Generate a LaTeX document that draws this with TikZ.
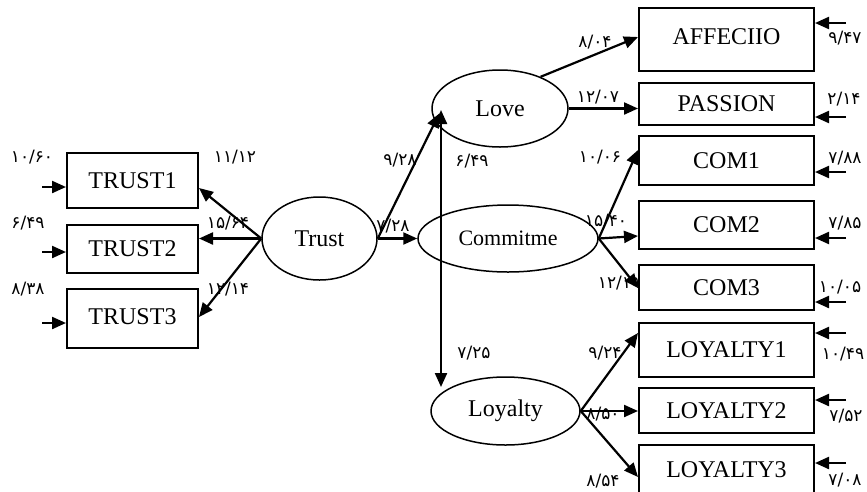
\documentclass[tikz,border=0pt]{standalone}
\usepackage{fontspec}
\setmainfont{Liberation Serif}
\newfontfamily\fanum{DejaVu Sans}
\usetikzlibrary{shapes.geometric,arrows.meta}
\tikzset{
  box/.style={draw,line width=2pt,inner sep=0pt,font=\fontsize{24}{24}\selectfont},
  lat/.style={draw,ellipse,line width=1.5pt,inner sep=0pt,font=\fontsize{24}{24}\selectfont},
  arr/.style={line width=2.2pt,-{Triangle[length=14pt,width=12pt]}},
  darr/.style={line width=2.2pt,{Triangle[length=14pt,width=12pt]}-{Triangle[length=14pt,width=12pt]}},
  num/.style={inner sep=0pt,font=\fanum\fontsize{17}{17}\selectfont}
}
\begin{document}
\begin{tikzpicture}[x=1pt,y=-1pt]
\useasboundingbox (0,0) rectangle (867,491);
% left boxes
\node[box,minimum width=131pt,minimum height=55pt] (t1) at (132.5,180.5) {TRUST1};
\node[box,minimum width=131pt,minimum height=48pt] (t2) at (132.5,249) {TRUST2};
\node[box,minimum width=131pt,minimum height=59pt] (t3) at (132.5,318.5) {\raisebox{3pt}{TRUST3}};
% latent
\node[lat,minimum width=115pt,minimum height=83pt] (trust) at (319.5,238.5) {Trust};
\node[lat,minimum width=136pt,minimum height=77pt] (love) at (500,108.5) {Love};
\node[lat,minimum width=180pt,minimum height=67pt,font=\fontsize{22}{22}\selectfont] (comm) at (508,238.5) {Commitme};
\node[lat,minimum width=149pt,minimum height=68pt] (loyal) at (505.5,411) {Loyalty};
% right boxes
\node[box,minimum width=175pt,minimum height=63pt] (aff) at (726.5,39.5) {\raisebox{6pt}{AFFECIIO}};
\node[box,minimum width=175pt,minimum height=42pt] (pas) at (726.5,104) {PASSION};
\node[box,minimum width=175pt,minimum height=49pt] (c1) at (726.5,160.5) {COM1};
\node[box,minimum width=175pt,minimum height=48pt] (c2) at (726.5,225) {COM2};
\node[box,minimum width=175pt,minimum height=45pt] (c3) at (726.5,287.5) {COM3};
\node[box,minimum width=175pt,minimum height=54pt] (l1) at (726.5,350) {LOYALTY1};
\node[box,minimum width=175pt,minimum height=45pt] (l2) at (726.5,410.5) {LOYALTY2};
\node[box,minimum width=175pt,minimum height=52pt] (l3) at (726.5,471) {\raisebox{2pt}{LOYALTY3}};
% error inputs left
\coordinate (e1) at (42,187);
\coordinate (e2) at (42,252);
\coordinate (e3) at (42,323);
\draw[arr] (e1) -- (t1.west|-e1);
\draw[arr] (e2) -- (t2.west|-e2);
\draw[arr] (e3) -- (t3.west|-e3);
% error inputs right
\coordinate (r1) at (846,23);
\coordinate (r2) at (846,117);
\coordinate (r3) at (846,172);
\coordinate (r4) at (846,238);
\coordinate (r5) at (846,302);
\coordinate (r6) at (846,333);
\coordinate (r7) at (846,400);
\coordinate (r8) at (846,463);
\draw[arr] (r1) -- (aff.east|-r1);
\draw[arr] (r2) -- (pas.east|-r2);
\draw[arr] (r3) -- (c1.east|-r3);
\draw[arr] (r4) -- (c2.east|-r4);
\draw[arr] (r5) -- (c3.east|-r5);
\draw[arr] (r6) -- (l1.east|-r6);
\draw[arr] (r7) -- (l2.east|-r7);
\draw[arr] (r8) -- (l3.east|-r8);
% trust to indicators
\draw[arr] (trust.west) -- ([yshift=-7.5pt]t1.east);
\draw[arr] (trust.west) -- (t2.east|-trust.west);
\draw[arr] (trust.west) -- ([yshift=1.5pt]t3.east);
% structural
\draw[arr] (trust.east) -- (comm.west);
\draw[arr] (trust.east) -- ([xshift=8pt,yshift=-5pt]love.west);
\coordinate (lv) at (441,110);
\coordinate (ly) at (441,387);
\draw[darr] (lv) -- (ly);
% love indicators
\draw[arr] (love.38) -- ([yshift=2.5pt]aff.west);
\draw[arr] (love.east) -- (pas.west|-love.east);
% commitment indicators
\draw[arr] (comm.east) -- ([yshift=10.5pt]c1.west);
\draw[arr] (comm.east) -- ([yshift=-11pt]c2.west);
\draw[arr] (comm.east) -- ([yshift=-0.5pt]c3.west);
% loyalty indicators
\draw[arr] (loyal.east) -- ([yshift=17pt]l1.west);
\draw[arr] (loyal.east) -- (l2.west|-loyal.east);
\draw[arr] (loyal.east) -- ([yshift=-6pt]l3.west);
% numbers
\node[num] (n1) at (32,157) {۱۰/۶۰};
\node[num] (n2) at (28,223) {۶/۴۹};
\node[num] (n3) at (28,289) {۸/۳۸};
\node[num] (n4) at (235,157) {۱۱/۱۲};
\node[num] (n5) at (228,223) {۱۵/۶۴};
\node[num] (n6) at (228,289) {۱۲/۱۴};
\node[num] (n7) at (400,160) {۹/۲۸};
\node[num] (n8) at (393,226) {۷/۲۸};
\node[num] (n9) at (472,161) {۶/۴۹};
\node[num] (n10) at (474,353) {۷/۲۵};
\node[num] (n11) at (595,42) {۸/۰۴};
\node[num] (n12) at (598,97) {۱۲/۰۷};
\node[num] (n13) at (600,157) {۱۰/۰۶};
\node[num] (n14) at (606,221) {۱۵/۴۰};
\node[num] (n15) at (619,283) {۱۲/۱۹};
\node[num] (n16) at (605,353) {۹/۲۴};
\node[num] (n17) at (603,414) {۸/۵۰};
\node[num] (n18) at (603,481) {۸/۵۴};
\node[num] (n19) at (845,38) {۹/۴۷};
\node[num] (n20) at (844,99) {۲/۱۴};
\node[num] (n21) at (845,158) {۷/۸۸};
\node[num] (n22) at (845,223) {۷/۸۵};
\node[num] (n23) at (840,287) {۱۰/۰۵};
\node[num] (n24) at (843,354) {۱۰/۴۹};
\node[num] (n25) at (846,416) {۷/۵۲};
\node[num] (n26) at (845,480) {۷/۰۸};
\end{tikzpicture}
\end{document}
